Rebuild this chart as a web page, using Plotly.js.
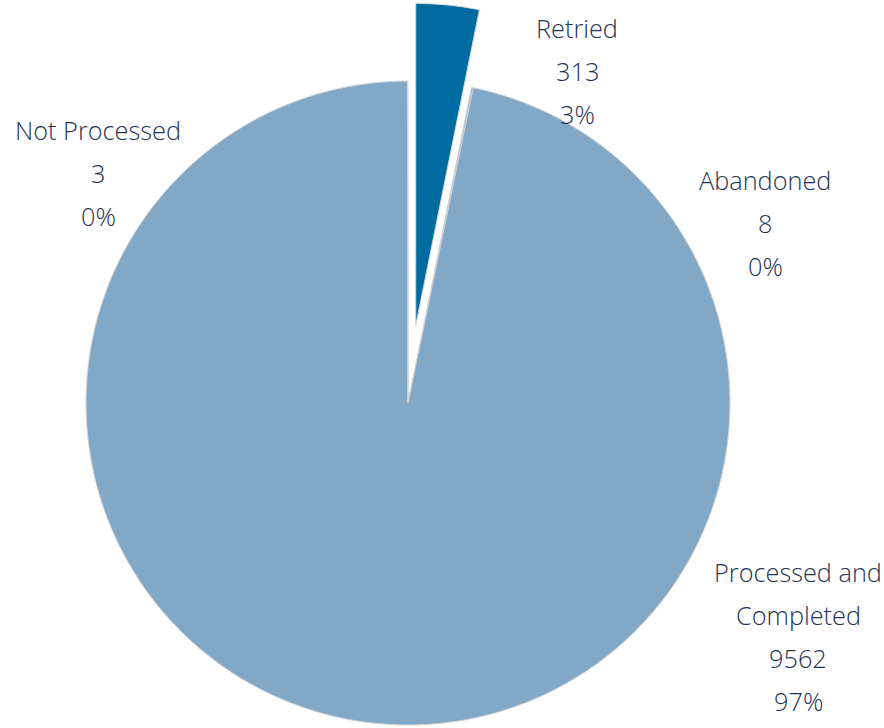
<!DOCTYPE html>
<html>
<head>
<meta charset="utf-8">
<script src="https://cdn.plot.ly/plotly-3.0.1.min.js"></script>
<style>html,body{margin:0;padding:0;background:#fff;}#chart{width:884px;height:728px;}</style>
</head>
<body>
<div id="chart"></div>
<script>
const categories = ["Retried", "Abandoned", "Processed and Completed", "Not Processed"];
const values = [313, 8, 9562, 3];
const labelLines = [["Retried"], ["Abandoned"], ["Processed and", "Completed"], ["Not Processed"]];

const mainColor = "#82A8C8";
const pulledColor = "#006BA0";
const clear = "rgba(0,0,0,0)";
const total = values.reduce((a, b) => a + b, 0);
const pulledIndex = 0;

const W = 884, H = 728;
const R = 322;
// pie centers in pixels
const mainC = [408, 403];
const pullDist = 78;
const midAngle = (values[0] / total) * Math.PI; // half of first slice angle from 12 o'clock
const pullC = [mainC[0] + pullDist * Math.sin(midAngle), mainC[1] - pullDist * Math.cos(midAngle)];

function domainFor(c) {
  return {
    x: [(c[0] - R) / W, (c[0] + R) / W],
    y: [(H - c[1] - R) / H, (H - c[1] + R) / H]
  };
}

const common = {
  type: "pie",
  labels: categories,
  values: values,
  sort: false,
  direction: "clockwise",
  rotation: 0,
  textinfo: "none",
  hoverinfo: "label+value+percent",
  showlegend: false
};

const traceMain = Object.assign({}, common, {
  domain: domainFor(mainC),
  marker: {
    colors: categories.map((_, i) => i === pulledIndex ? clear : mainColor),
    line: {color: categories.map((_, i) => i === pulledIndex ? clear : "#d4d4d4"), width: 1}
  }
});
const tracePulled = Object.assign({}, common, {
  domain: domainFor(pullC),
  marker: {
    colors: categories.map((_, i) => i === pulledIndex ? pulledColor : clear),
    line: {color: categories.map((_, i) => i === pulledIndex ? "#d4d4d4" : clear), width: 1}
  }
});

// label anchor positions (pixels: center x, first line y)
const labelPos = [[577, 28], [765, 180], [798, 572], [98, 130]];
const lineGap = 43;
const annotations = [];
categories.forEach((c, i) => {
  const pct = Math.round(values[i] / total * 100) + "%";
  const lines = labelLines[i].concat([String(values[i]), pct]);
  lines.forEach((t, k) => {
    annotations.push({
      xref: "paper", yref: "paper",
      x: labelPos[i][0] / W,
      y: (H - (labelPos[i][1] + k * lineGap)) / H,
      xanchor: "center", yanchor: "middle",
      text: t, showarrow: false,
      font: {family: "Open Sans", size: 25.3, weight: 300, color: "#1F3352"}
    });
  });
});

Plotly.newPlot("chart", [traceMain, tracePulled], {
  width: W, height: H,
  margin: {l: 0, r: 0, t: 0, b: 0},
  paper_bgcolor: "#ffffff",
  annotations: annotations
}, {displayModeBar: false, staticPlot: true});
</script>
</body>
</html>
